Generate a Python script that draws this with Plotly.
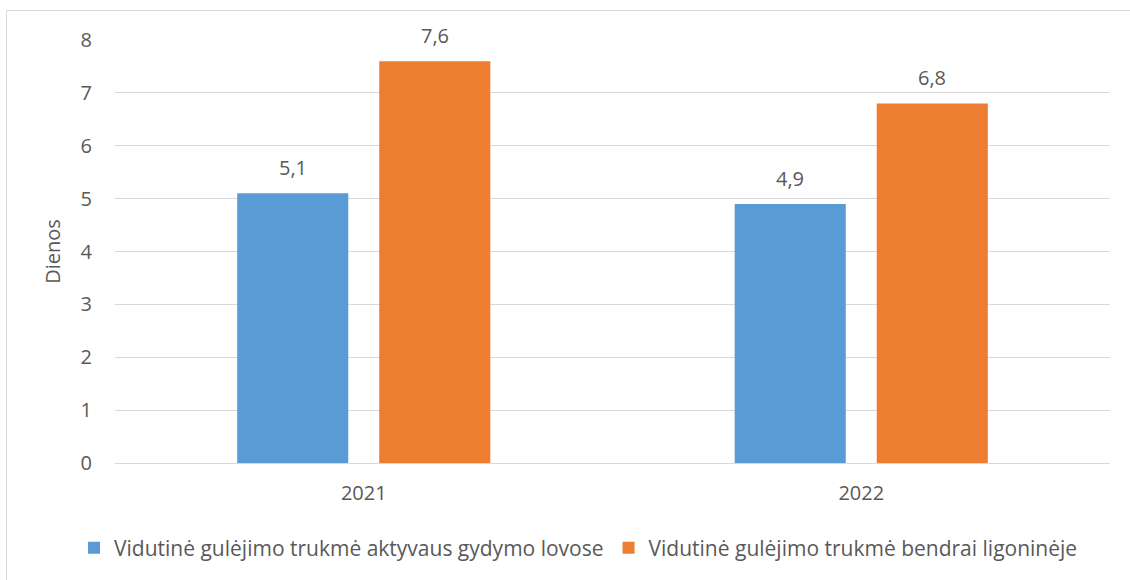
import plotly.graph_objects as go

categories = ["2021", "2022"]
series_names = ["Vidutinė gulėjimo trukmė aktyvaus gydymo lovose",
                "Vidutinė gulėjimo trukmė bendrai ligoninėje"]
active_values = [5.1, 4.9]
total_values = [7.6, 6.8]
colors = ["#5B9BD5", "#ED7D31"]
text_color = "#595959"
grid_color = "#D9D9D9"
font_family = "'Open Sans', sans-serif"

def fmt(v):
    return f"{v:.1f}".replace(".", ",")

fig = go.Figure()
for name, vals, col in zip(series_names, [active_values, total_values], colors):
    fig.add_trace(go.Bar(x=categories, y=vals, name=name, marker_color=col,
                         marker_line_width=0))

# value labels above bars (offset to each bar within its group)
shifts = [-71, 71]
for vals, sh in zip([active_values, total_values], shifts):
    for i, v in enumerate(vals):
        fig.add_annotation(x=i, y=v, text=fmt(v), showarrow=False,
                           xref="x", yref="y",
                           xshift=sh, yshift=10, yanchor="bottom",
                           font=dict(size=20, color=text_color, family=font_family))

L, R, T, B = 115, 20, 40, 117
W, H = 1130, 580
pw, ph = W - L - R, H - T - B

def px_to_paper_x(px):
    return (px - L) / pw

def px_to_paper_y(py):
    return (H - B - py) / ph

fig.update_layout(
    width=W, height=H,
    margin=dict(l=L, r=R, t=T, b=B, pad=0),
    paper_bgcolor="white", plot_bgcolor="white",
    barmode="group", bargap=0.429, bargroupgap=0.218,
    font=dict(family=font_family, size=20, color=text_color),
    showlegend=True,
    legend=dict(orientation="h", x=px_to_paper_x(74), xanchor="left",
                y=px_to_paper_y(548), yanchor="middle",
                font=dict(size=21, color=text_color),
                itemwidth=30, traceorder="normal"),
    xaxis=dict(type="category", range=[-0.5, len(categories) - 0.5], autorange=False,
               showgrid=False, showline=True, linecolor=grid_color,
               linewidth=1, ticks="", tickfont=dict(size=20), ticklabelstandoff=12),
    yaxis=dict(range=[0, 8], autorange=False, dtick=1, showgrid=True,
               gridcolor=grid_color, gridwidth=1,
               zeroline=False, ticks="", tickfont=dict(size=20), ticklabelstandoff=22,
               title=dict(text="Dienos", font=dict(size=20), standoff=14)),
    shapes=[
        dict(type="line", xref="paper", yref="paper",
             x0=px_to_paper_x(6.5), x1=px_to_paper_x(1200),
             y0=px_to_paper_y(10.5), y1=px_to_paper_y(10.5),
             line=dict(color=grid_color, width=1), layer="below"),
        dict(type="line", xref="paper", yref="paper",
             x0=px_to_paper_x(6.5), x1=px_to_paper_x(6.5),
             y0=px_to_paper_y(10.5), y1=px_to_paper_y(700),
             line=dict(color=grid_color, width=1), layer="below"),
    ],
)

fig.write_html("out.html", config={"displayModeBar": False},
               post_script="document.body.style.margin='0';")
